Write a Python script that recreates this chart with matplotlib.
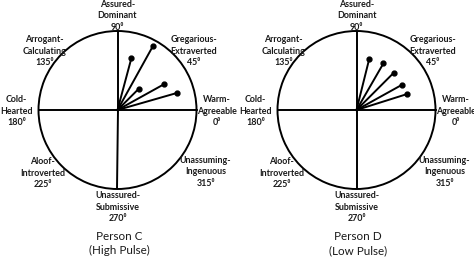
import numpy as np
import matplotlib
matplotlib.use("Agg")
import matplotlib.pyplot as plt

# Data (angle in degrees, vector length relative to circle radius)
c_angles = [61, 75, 45, 29, 16]
c_lengths = [0.92, 0.68, 0.38, 0.67, 0.79]
d_angles = [76, 60, 45, 29, 17.5]
d_lengths = [0.67, 0.68, 0.67, 0.66, 0.67]

octant_labels = {
    90: "Assured-\nDominant\n90\u2070",
    45: "Gregarious-\nExtraverted\n45\u2070",
    135: "Arrogant-\nCalculating\n135\u2070",
    180: "Cold-\nHearted\n180\u2070",
    0: "Warm-\nAgreeable\n0\u2070",
    225: "Aloof-\nIntroverted\n225\u2070",
    315: "Unassuming-\nIngenuous\n315\u2070",
    270: "Unassured-\nSubmissive\n270\u2070",
}
# label centre offsets (pixels from circle centre; y downward)
label_pos = {
    90: (0, -94), 45: (76, -59), 135: (-73, -59), 180: (-101, 1),
    0: (99, 1), 225: (-75, 63), 315: (88, 62), 270: (0, 97),
}
panel_titles = ["Person C\n(High Pulse)", "Person D\n(Low Pulse)"]

W, H = 474, 257
fig = plt.figure(figsize=(W / 100, H / 100), dpi=100)
fam = ["Lato", "DejaVu Sans"]

centers = [(117.5, 110), (356.5, 110)]
R = 79
datasets = [(c_angles, c_lengths), (d_angles, d_lengths)]

for (cx, cy), (angs, lens), title in zip(centers, datasets, panel_titles):
    ax = fig.add_axes([(cx - R) / W, 1 - (cy + R) / H, 2 * R / W, 2 * R / H],
                      projection="polar")
    ax.set_ylim(0, 1)
    ax.set_thetagrids([0, 90, 180, 270], labels=[""] * 4)
    ax.set_rgrids([])
    ax.grid(True, color="black", linewidth=1.4, linestyle="-")
    ax.yaxis.grid(False)
    ax.spines["polar"].set_color("black")
    ax.spines["polar"].set_linewidth(1.4)
    ax.set_facecolor("white")
    for a, l in zip(angs, lens):
        th = np.deg2rad(a)
        ax.plot([0, th], [0, l], color="black", lw=1.4)
        ax.plot([th], [l], "o", color="black", ms=3.5)
    for k, txt in octant_labels.items():
        dx, dy = label_pos[k]
        fig.text((cx + dx) / W, 1 - (cy + dy) / H, txt, ha="center", va="center",
                 fontsize=6.4, fontweight="bold", family=fam, linespacing=1.42,
                 color="#1a1a1a")
    fig.text((cx + 1.5) / W, 1 - (cy + 133.5) / H, title, ha="center", va="center",
             fontsize=8.4, family=fam, linespacing=1.3, color="#1a1a1a")

fig.savefig("out.png", dpi=100, facecolor="white")
